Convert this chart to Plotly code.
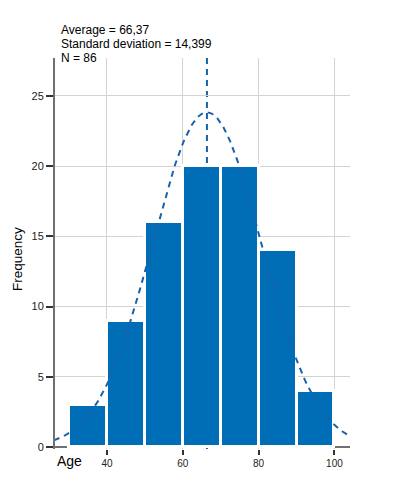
import numpy as np
import plotly.graph_objects as go

# Data
bin_starts = [30, 40, 50, 60, 70, 80, 90]
bin_width = 10
counts = [3, 9, 16, 20, 20, 14, 4]
mean_age = 66.37
sd_age = 14.399
n_total = 86
x_ticks = [40, 60, 80, 100]
y_ticks = [0, 5, 10, 15, 20, 25]

BAR = "#006EB7"
CURVE = "#1862AA"
FONT = "Liberation Sans, Arial, sans-serif"

centers = [b + bin_width / 2 for b in bin_starts]

# Normal curve scaled to the histogram (N * bin width)
xc = np.linspace(26.0, 103.3, 300)
yc = n_total * bin_width / (sd_age * np.sqrt(2 * np.pi)) * np.exp(-0.5 * ((xc - mean_age) / sd_age) ** 2)

fig = go.Figure()
fig.add_trace(go.Bar(
    x=centers, y=counts, width=bin_width,
    marker=dict(color=BAR, line=dict(color="white", width=3)),
    hoverinfo="skip", showlegend=False,
))
fig.add_trace(go.Scatter(
    x=xc, y=yc, mode="lines",
    line=dict(color=CURVE, width=2, dash="6px,5px"),
    hoverinfo="skip", showlegend=False,
))

fig.add_shape(type="line", xref="x", yref="paper", x0=mean_age, x1=mean_age, y0=0, y1=1,
              line=dict(color=CURVE, width=2, dash="6px,5px"), layer="below")

fig.update_layout(
    width=395, height=485,
    margin=dict(l=55, r=45, t=58, b=36, autoexpand=False),
    paper_bgcolor="white", plot_bgcolor="white",
    font=dict(family=FONT, color="black"),
    bargap=0,
    xaxis=dict(
        range=[26.3, 104.1], tickvals=x_ticks, ticktext=[str(v) for v in x_ticks],
        showgrid=True, gridcolor="#D3D3D3", gridwidth=1,
        showline=False, zeroline=False,
        ticks="outside", ticklen=5, tickwidth=1.5, tickcolor="#333333",
        tickfont=dict(size=10, color="#222222"),
        layer="below traces",
    ),
    yaxis=dict(
        range=[-0.15, 27.7], tickvals=y_ticks, ticktext=[str(v) for v in y_ticks],
        showgrid=True, gridcolor="#D3D3D3", gridwidth=1,
        showline=True, linecolor="#707070", linewidth=2,
        zeroline=True, zerolinecolor="#707070", zerolinewidth=2,
        ticks="outside", ticklen=7, tickwidth=1.5, tickcolor="#333333",
        tickfont=dict(size=11, color="#222222"),
        layer="below traces",
    ),
)

ph = 485 - 58 - 36
def py(p):
    return (485 - 36 - p) / ph

pw = 395 - 55 - 45
def px(p):
    return (p - 55) / pw

stats_lines = [f"Average = {mean_age:.2f}".replace(".", ","),
               f"Standard deviation = {sd_age:.3f}".replace(".", ","),
               f"N = {n_total}"]
for i, t in enumerate(stats_lines):
    fig.add_annotation(text=t, xref="paper", yref="paper", x=px(59), y=py(30 + 14 * i),
                       xanchor="left", yanchor="middle", showarrow=False,
                       font=dict(size=12, color="black", family=FONT))

fig.add_annotation(text="Frequency", xref="paper", yref="paper", x=px(17), y=py(259),
                   textangle=-90, xanchor="center", yanchor="middle", showarrow=False,
                   font=dict(size=13.5, color="black", family=FONT))
fig.add_annotation(text="Age", xref="paper", yref="paper", x=px(69), y=py(461),
                   xanchor="center", yanchor="middle", showarrow=False,
                   font=dict(size=14, color="black", family=FONT))

fig.write_html("out.html", config={"displayModeBar": False},
               post_script="document.body.style.margin='0';document.body.style.overflow='hidden';")
